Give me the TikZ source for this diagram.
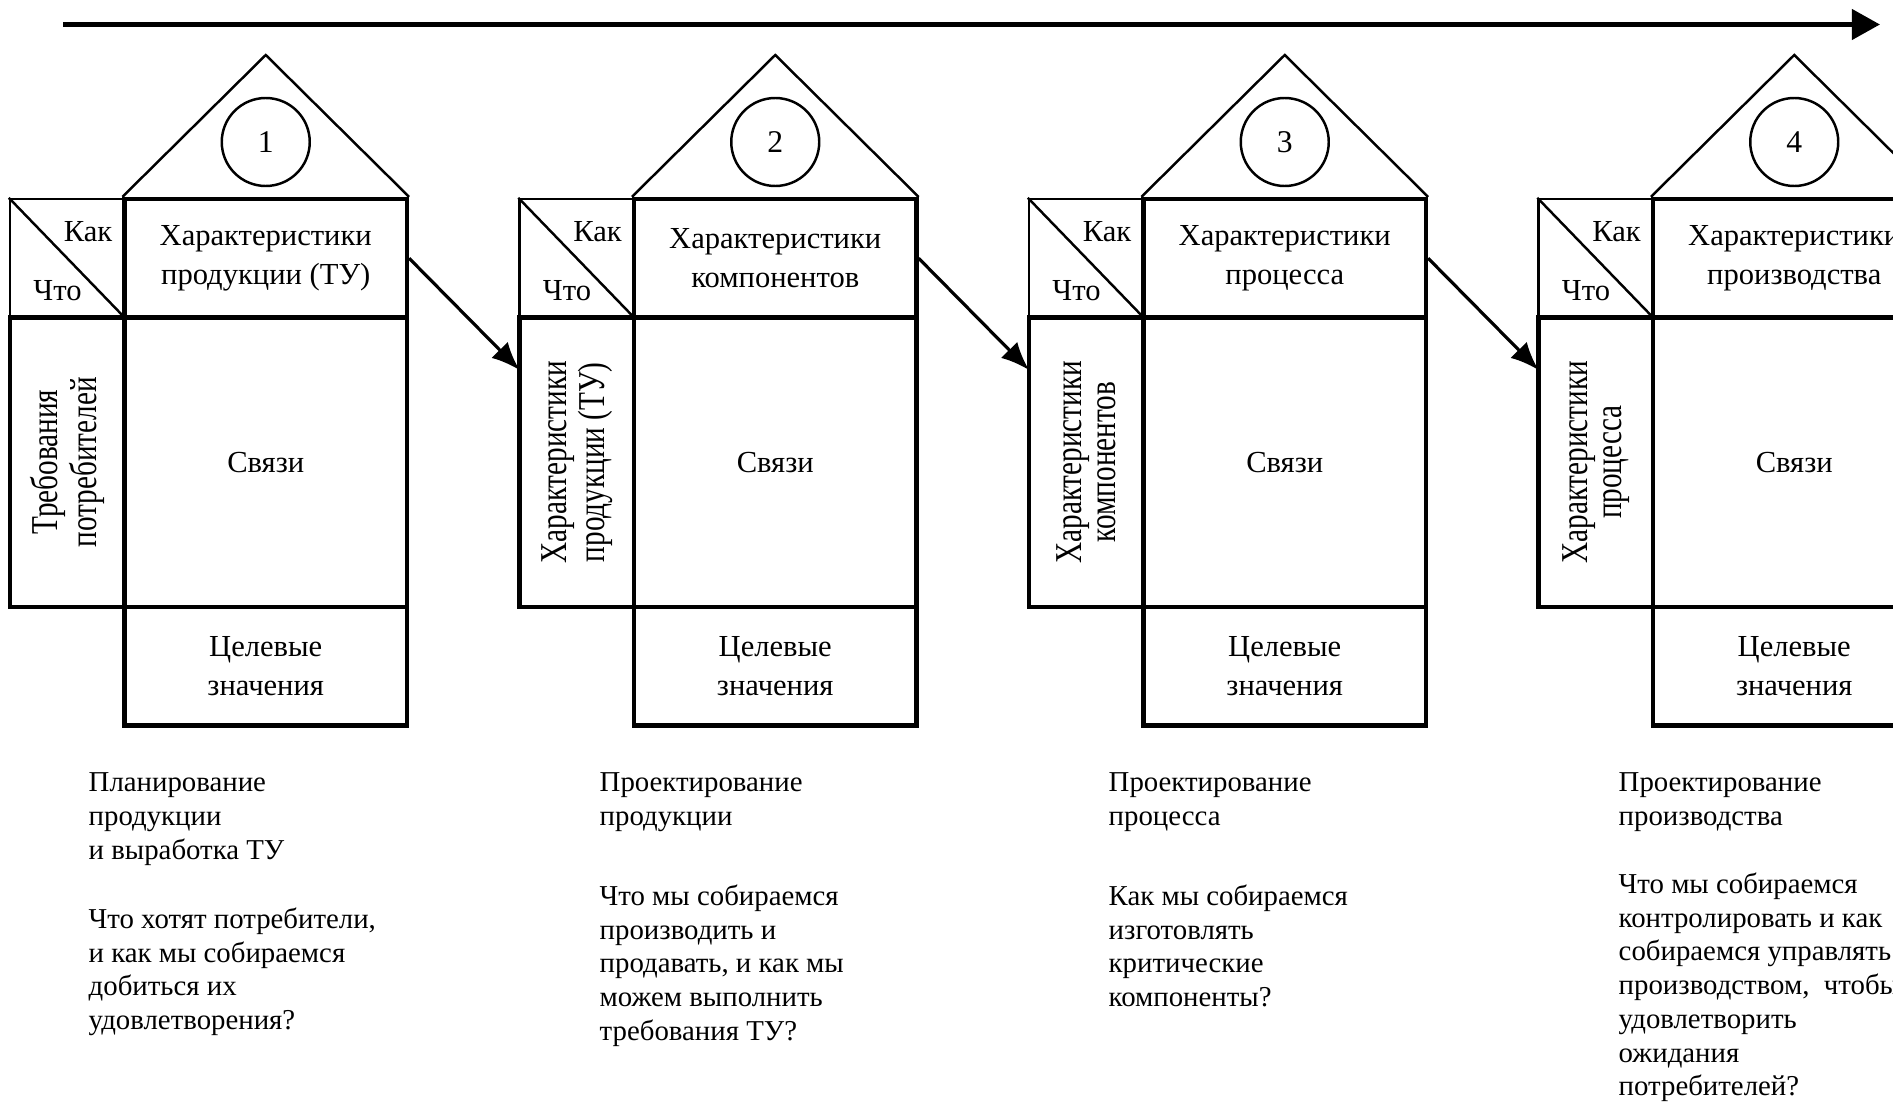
\documentclass[tikz,border=0pt]{standalone}
\usepackage{fontspec}
\setmainfont{Liberation Serif}
\newfontfamily\narrowfont[FakeStretch=0.77]{Liberation Serif}
\usepackage{tikz}
\usetikzlibrary{arrows.meta}

\tikzset{
  cell/.style={draw,line width=1.2pt,inner sep=0pt,align=center,font=\fontsize{8.7}{11}\selectfont},
  corner/.style={draw,line width=0.7pt,inner sep=0pt},
  num/.style={draw,circle,line width=0.7pt,minimum size=0.88cm,inner sep=0pt,font=\fontsize{9}{11}\selectfont},
  vtext/.style={rotate=90,align=center,inner sep=0pt,font=\narrowfont\fontsize{10.8}{9.6}\selectfont},
  small/.style={inner sep=0pt,font=\fontsize{8.7}{11}\selectfont},
  note/.style={anchor=north west,align=left,inner sep=0pt,font=\fontsize{8.2}{9.6}\selectfont},
  flow/.style={-{Latex[length=8pt,width=6.5pt]},line width=0.9pt},
  roof/.style={line width=0.7pt}
}

\begin{document}
\begin{tikzpicture}
  \useasboundingbox (0,0) rectangle (18.93,-11.03);
  \clip (0,0) rectangle (18.93,-11.03);

  % time axis
  \coordinate (axis0) at (0.63,-0.245);
  \coordinate (axis1) at (18.80,-0.245);
  \draw[-{Triangle[length=8pt,width=8.5pt]},line width=1.4pt] (axis0) -- (axis1);

  % house 1
  \draw (0.6725,-2.5825) node[corner,minimum width=1.145cm,minimum height=1.185cm] (c1) {};
  \draw[roof] (c1.north west) -- (c1.south east);
  \draw (1.13,-2.32) node[small,anchor=east] (how1) {Как};
  \draw (0.575,-2.91) node[small] (what1) {Что};
  \draw (2.6575,-2.5825) node[cell,minimum width=2.825cm,minimum height=1.185cm] (h1) {Характеристики\\продукции (ТУ)};
  \draw (0.6725,-4.6225) node[cell,minimum width=1.145cm,minimum height=2.895cm] (q1) {};
  \draw (q1) node[vtext] (qt1) {Требования\\потребителей};
  \draw (2.6575,-4.6225) node[cell,minimum width=2.825cm,minimum height=2.895cm] (r1) {Связи};
  \draw (2.6575,-6.6625) node[cell,minimum width=2.825cm,minimum height=1.185cm] (t1) {Целевые\\значения};
  \coordinate (top1) at (2.6575,-0.55);
  \draw[roof] (h1.north west) -- (top1) -- (h1.north east);
  \draw (2.6575,-1.42) node[num] (n1) {1};

  % house 2
  \draw (5.7675,-2.5825) node[corner,minimum width=1.145cm,minimum height=1.185cm] (c2) {};
  \draw[roof] (c2.north west) -- (c2.south east);
  \draw (6.225,-2.32) node[small,anchor=east] (how2) {Как};
  \draw (5.67,-2.91) node[small] (what2) {Что};
  \draw (7.7525,-2.5825) node[cell,minimum width=2.825cm,minimum height=1.185cm] (h2) {Характеристики\\компонентов};
  \draw (5.7675,-4.6225) node[cell,minimum width=1.145cm,minimum height=2.895cm] (q2) {};
  \draw (q2) node[vtext] (qt2) {Характеристики\\продукции (ТУ)};
  \draw (7.7525,-4.6225) node[cell,minimum width=2.825cm,minimum height=2.895cm] (r2) {Связи};
  \draw (7.7525,-6.6625) node[cell,minimum width=2.825cm,minimum height=1.185cm] (t2) {Целевые\\значения};
  \coordinate (top2) at (7.7525,-0.55);
  \draw[roof] (h2.north west) -- (top2) -- (h2.north east);
  \draw (7.7525,-1.42) node[num] (n2) {2};

  % house 3
  \draw (10.8625,-2.5825) node[corner,minimum width=1.145cm,minimum height=1.185cm] (c3) {};
  \draw[roof] (c3.north west) -- (c3.south east);
  \draw (11.32,-2.32) node[small,anchor=east] (how3) {Как};
  \draw (10.765,-2.91) node[small] (what3) {Что};
  \draw (12.8475,-2.5825) node[cell,minimum width=2.825cm,minimum height=1.185cm] (h3) {Характеристики\\процесса};
  \draw (10.8625,-4.6225) node[cell,minimum width=1.145cm,minimum height=2.895cm] (q3) {};
  \draw (q3) node[vtext] (qt3) {Характеристики\\компонентов};
  \draw (12.8475,-4.6225) node[cell,minimum width=2.825cm,minimum height=2.895cm] (r3) {Связи};
  \draw (12.8475,-6.6625) node[cell,minimum width=2.825cm,minimum height=1.185cm] (t3) {Целевые\\значения};
  \coordinate (top3) at (12.8475,-0.55);
  \draw[roof] (h3.north west) -- (top3) -- (h3.north east);
  \draw (12.8475,-1.42) node[num] (n3) {3};

  % house 4
  \draw (15.9575,-2.5825) node[corner,minimum width=1.145cm,minimum height=1.185cm] (c4) {};
  \draw[roof] (c4.north west) -- (c4.south east);
  \draw (16.415,-2.32) node[small,anchor=east] (how4) {Как};
  \draw (15.86,-2.91) node[small] (what4) {Что};
  \draw (17.9425,-2.5825) node[cell,minimum width=2.825cm,minimum height=1.185cm] (h4) {Характеристики\\производства};
  \draw (15.9575,-4.6225) node[cell,minimum width=1.145cm,minimum height=2.895cm] (q4) {};
  \draw (q4) node[vtext] (qt4) {Характеристики\\процесса};
  \draw (17.9425,-4.6225) node[cell,minimum width=2.825cm,minimum height=2.895cm] (r4) {Связи};
  \draw (17.9425,-6.6625) node[cell,minimum width=2.825cm,minimum height=1.185cm] (t4) {Целевые\\значения};
  \coordinate (top4) at (17.9425,-0.55);
  \draw[roof] (h4.north west) -- (top4) -- (h4.north east);
  \draw (17.9425,-1.42) node[num] (n4) {4};

  % passing on from house to house
  \coordinate (in2) at (5.195,-3.70);
  \coordinate (in3) at (10.29,-3.70);
  \coordinate (in4) at (15.385,-3.70);
  \path[flow] (h1.east) edge (in2);
  \path[flow] (h2.east) edge (in3);
  \path[flow] (h3.east) edge (in4);

  % what each stage is about
  \draw (0.88,-7.72) node[note] (s1) {Планирование\\продукции\\и выработка ТУ};
  \draw (0.88,-9.07) node[note] (d1) {Что хотят потребители,\\и как мы собираемся\\добиться их\\удовлетворения?};
  \draw (5.99,-7.72) node[note] (s2) {Проектирование\\продукции};
  \draw (5.99,-8.84) node[note] (d2) {Что мы собираемся\\производить и\\продавать, и как мы\\можем выполнить\\требования ТУ?};
  \draw (11.08,-7.72) node[note] (s3) {Проектирование\\процесса};
  \draw (11.08,-8.84) node[note] (d3) {Как мы собираемся\\изготовлять\\критические\\компоненты?};
  \draw (16.18,-7.72) node[note] (s4) {Проектирование\\производства};
  \draw (16.18,-8.72) node[note] (d4) {Что мы собираемся\\контролировать и как\\собираемся управлять\\производством,\ \ чтобы\\удовлетворить\\ожидания\\потребителей?};
\end{tikzpicture}
\end{document}
